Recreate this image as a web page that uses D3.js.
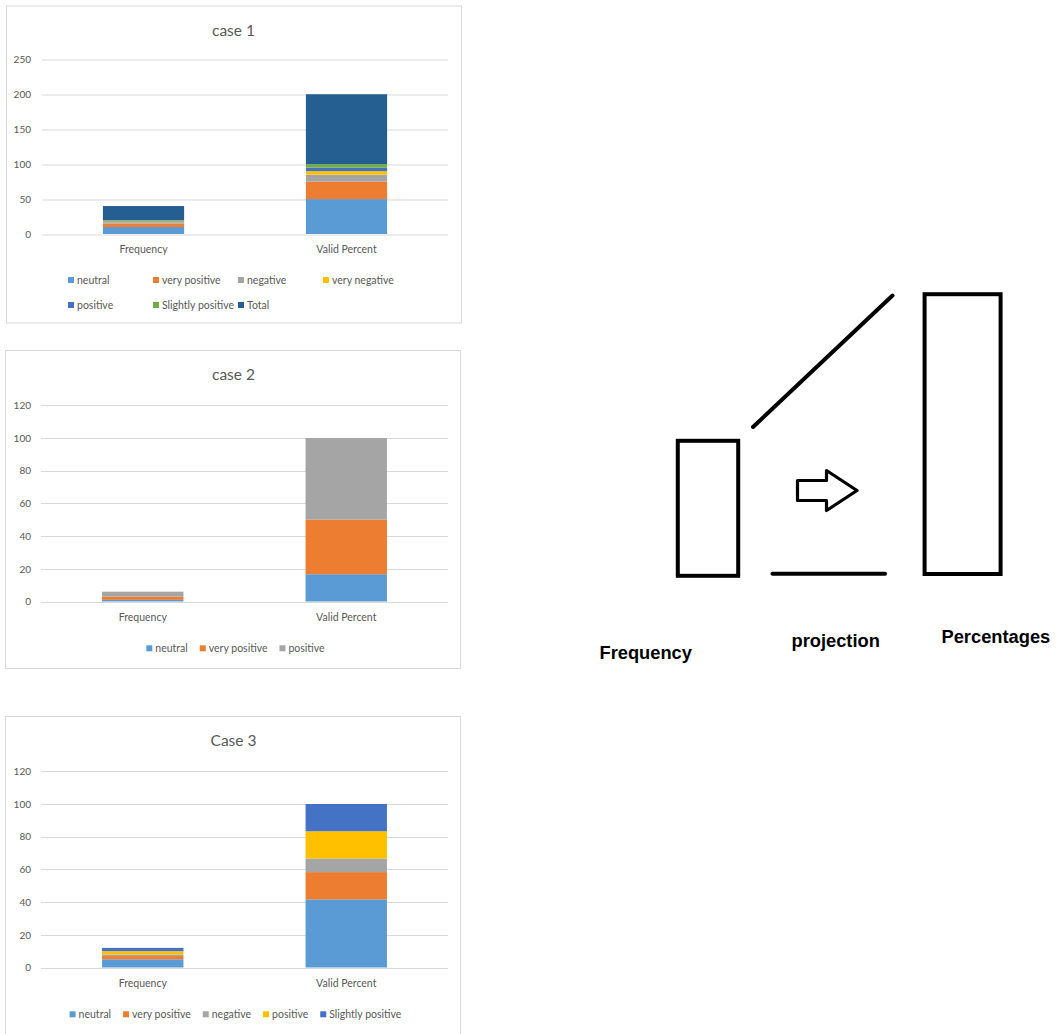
<!DOCTYPE html>
<html>
<head>
<meta charset="utf-8">
<script src="https://cdn.jsdelivr.net/npm/d3@7"></script>
<style>
  html, body { margin: 0; padding: 0; background: #ffffff; }
  svg { display: block; }
</style>
</head>
<body>
<svg id="chart" width="1058" height="1034"></svg>
<script>
// ---- data ----
const categories = ["Frequency", "Valid Percent"];

const case1Series = ["neutral", "very positive", "negative", "very negative", "positive", "Slightly positive", "Total"];
const case1Frequency = [10, 5, 2, 1, 1, 1, 20];
const case1ValidPercent = [50, 25, 10, 5, 5, 5, 100];
const case1Ticks = [0, 50, 100, 150, 200, 250];

const case2Series = ["neutral", "very positive", "positive"];
const case2Frequency = [1, 2, 3];
const case2ValidPercent = [16.67, 33.33, 50];
const case2Ticks = [0, 20, 40, 60, 80, 100, 120];

const case3Series = ["neutral", "very positive", "negative", "positive", "Slightly positive"];
const case3Frequency = [5, 2, 1, 2, 2];
const case3ValidPercent = [41.67, 16.67, 8.33, 16.67, 16.67];
const case3Ticks = [0, 20, 40, 60, 80, 100, 120];

const sketchLabels = ["Frequency", "projection", "Percentages"];

// Office-style series palette, applied in series order
const palette = ["#5B9BD5", "#ED7D31", "#A5A5A5", "#FFC000", "#4472C4", "#70AD47", "#255E91"];

const svg = d3.select("#chart");
const FONT = "Lato, 'Open Sans', sans-serif";
const TEXT = "#595959";
const GRID = "#D9D9D9";

function drawCase(opt) {
  const g = svg.append("g").attr("transform", `translate(0,${opt.top})`);

  // chart frame
  g.append("rect")
    .attr("x", opt.frameX).attr("y", 0.5)
    .attr("width", 455).attr("height", opt.frameH)
    .attr("fill", "#fff").attr("stroke", GRID).attr("stroke-width", 1);

  // title
  g.append("text")
    .attr("x", 233.5).attr("y", 30)
    .attr("text-anchor", "middle")
    .attr("font-family", FONT).attr("font-size", 15.5)
    .attr("fill", TEXT)
    .text(opt.title);

  const x = d3.scaleBand()
    .domain(categories)
    .range([opt.plotLeft, 448])
    .paddingInner(0.6)
    .paddingOuter(0.3);

  const y = d3.scaleLinear()
    .domain([0, d3.max(opt.ticks)])
    .range([opt.zeroY, opt.topY]);

  // gridlines
  g.append("g").selectAll("line")
    .data(opt.ticks)
    .join("line")
    .attr("x1", opt.plotLeft).attr("x2", 448)
    .attr("y1", d => Math.round(y(d)) + 0.5)
    .attr("y2", d => Math.round(y(d)) + 0.5)
    .attr("stroke", GRID).attr("stroke-width", 1.2);

  // y axis labels
  const yAxis = d3.axisLeft(y).tickValues(opt.ticks).tickSize(0).tickPadding(0);
  const ya = g.append("g").attr("transform", `translate(31,0)`).call(yAxis);
  ya.select(".domain").remove();
  ya.selectAll("text")
    .attr("font-family", FONT).attr("font-size", 10)
    .attr("fill", TEXT);

  // stacked bars
  const rows = categories.map((c, i) => {
    const vals = i === 0 ? opt.frequency : opt.valid;
    const r = { category: c };
    opt.series.forEach((s, k) => { r[s] = vals[k]; });
    return r;
  });
  const stacked = d3.stack().keys(opt.series)(rows);

  g.append("g").selectAll("g")
    .data(stacked)
    .join("g")
    .attr("fill", (d, i) => palette[i])
    .selectAll("rect")
    .data(d => d)
    .join("rect")
    .attr("x", d => x(d.data.category))
    .attr("width", x.bandwidth())
    .attr("y", d => y(d[1]))
    .attr("height", d => y(d[0]) - y(d[1]));

  // category axis labels
  const xAxis = d3.axisBottom(x).tickSize(0).tickPadding(0);
  const xa = g.append("g").attr("transform", `translate(0,${opt.zeroY + 12})`).call(xAxis);
  xa.select(".domain").remove();
  xa.selectAll("text")
    .attr("font-family", FONT).attr("font-size", 10.5)
    .attr("fill", TEXT);

  // legend
  const lg = g.append("g");
  const items = lg.selectAll("g")
    .data(opt.series)
    .join("g");
  items.append("rect")
    .attr("width", 6).attr("height", 6)
    .attr("y", -3)
    .attr("fill", (d, i) => palette[i]);
  items.append("text")
    .attr("x", 9)
    .attr("dy", "0.35em")
    .attr("font-family", FONT).attr("font-size", 10.5)
    .attr("fill", TEXT)
    .text(d => d);

  if (opt.legendColumns) {
    // fixed grid of columns
    items.attr("transform", (d, i) => {
      const col = i % opt.legendColumns, row = Math.floor(i / opt.legendColumns);
      return `translate(${68 + col * 85},${opt.legendY + row * 25})`;
    });
  } else {
    // single centred row
    const widths = [];
    items.each(function () {
      widths.push(9 + d3.select(this).select("text").node().getComputedTextLength());
    });
    const gap = 12;
    const total = d3.sum(widths) + gap * (widths.length - 1);
    let cx = 235.5 - total / 2;
    items.attr("transform", (d, i) => {
      const t = `translate(${cx},${opt.legendY})`;
      cx += widths[i] + gap;
      return t;
    });
  }
}

drawCase({
  top: 5.5, frameX: 6.5, frameH: 317, title: "case 1",
  series: case1Series, frequency: case1Frequency, valid: case1ValidPercent,
  ticks: case1Ticks, plotLeft: 42, zeroY: 228.5, topY: 53.8,
  legendY: 274.5, legendColumns: 4
});

drawCase({
  top: 350, frameX: 5.5, frameH: 318, title: "case 2",
  series: case2Series, frequency: case2Frequency, valid: case2ValidPercent,
  ticks: case2Ticks, plotLeft: 41, zeroY: 251.5, topY: 55.3,
  legendY: 298.3
});

drawCase({
  top: 716, frameX: 5.5, frameH: 340, title: "Case 3",
  series: case3Series, frequency: case3Frequency, valid: case3ValidPercent,
  ticks: case3Ticks, plotLeft: 41, zeroY: 251.5, topY: 55.3,
  legendY: 298.3
});

// ---- projection sketch: small frequency bar projected to a tall percentage bar ----
const sk = svg.append("g")
  .attr("fill", "none")
  .attr("stroke", "#000")
  .attr("stroke-linecap", "round")
  .attr("stroke-linejoin", "miter");

sk.append("rect")
  .attr("x", 677.8).attr("y", 440.8).attr("width", 60.4).attr("height", 135)
  .attr("stroke-width", 4);
sk.append("rect")
  .attr("x", 924.6).attr("y", 294.2).attr("width", 76).attr("height", 279.8)
  .attr("stroke-width", 4);

sk.append("line")
  .attr("x1", 753).attr("y1", 427).attr("x2", 892.5).attr("y2", 295.5)
  .attr("stroke-width", 4);
sk.append("line")
  .attr("x1", 772.5).attr("y1", 573.7).attr("x2", 885).attr("y2", 573.7)
  .attr("stroke-width", 4);

// hollow arrow
const arrow = d3.path();
arrow.moveTo(797.5, 480.5);
arrow.lineTo(826.5, 480.5);
arrow.lineTo(826.5, 470.5);
arrow.lineTo(857, 490.5);
arrow.lineTo(826.5, 510.5);
arrow.lineTo(826.5, 500.5);
arrow.lineTo(797.5, 500.5);
arrow.closePath();
sk.append("path")
  .attr("d", arrow.toString())
  .attr("stroke-width", 3.2)
  .attr("stroke-linejoin", "round");

const labelPos = [
  { x: 599.5, y: 659 },
  { x: 791.5, y: 646.5 },
  { x: 941.5, y: 642.5 }
];
svg.append("g").selectAll("text")
  .data(sketchLabels)
  .join("text")
  .attr("x", (d, i) => labelPos[i].x)
  .attr("y", (d, i) => labelPos[i].y)
  .attr("font-family", "'Liberation Sans', Arial, sans-serif")
  .attr("font-weight", "bold")
  .attr("font-size", 18.3)
  .attr("fill", "#000")
  .text(d => d);
</script>
</body>
</html>
